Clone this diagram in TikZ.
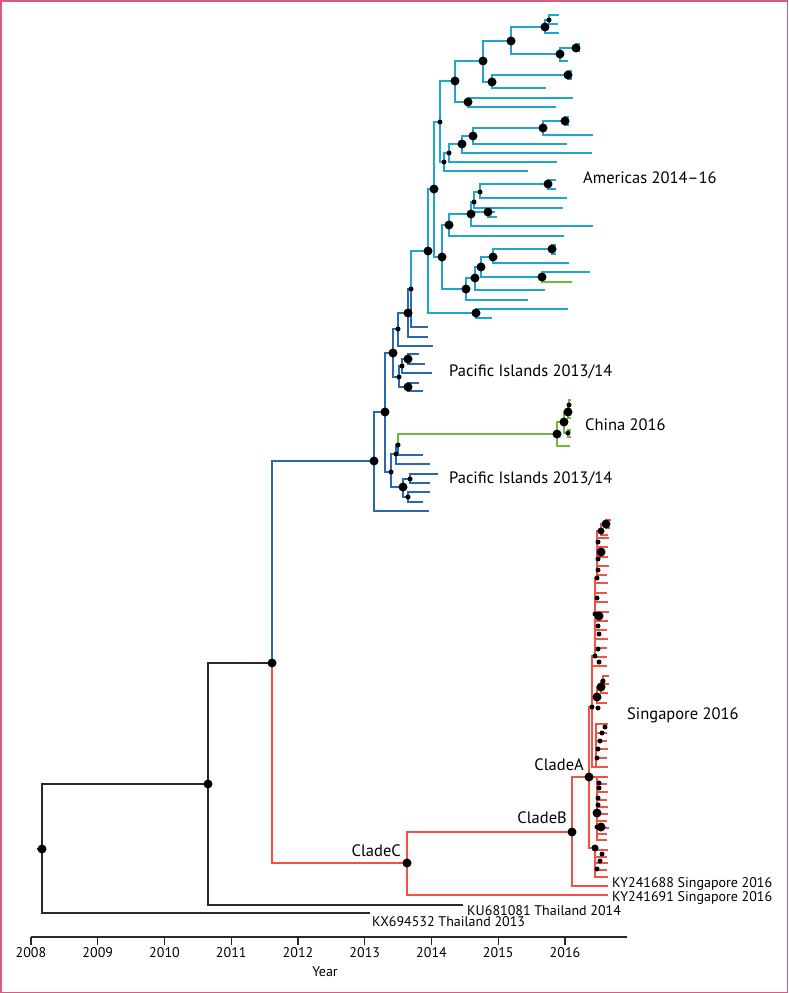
\documentclass[tikz,border=0pt]{standalone}
\usepackage{fontspec}
\setmainfont{PT Sans}
\definecolor{amcyan}{RGB}{30,165,208}
\definecolor{pacblue}{RGB}{42,105,175}
\definecolor{chgreen}{RGB}{112,185,62}
\definecolor{sgred}{RGB}{240,82,72}
\definecolor{treeblack}{RGB}{40,40,40}
\definecolor{frame}{RGB}{214,90,130}
\tikzset{
  br/.style={line width=1.2pt},
  blk/.style={br,draw=treeblack},
  pac/.style={br,draw=pacblue},
  ame/.style={br,draw=amcyan},
  chn/.style={br,draw=chgreen},
  sgp/.style={br,draw=sgred},
  bigdot/.style={circle,fill=black,inner sep=0pt,minimum size=9pt},
  middot/.style={circle,fill=black,inner sep=0pt,minimum size=7pt},
  smalldot/.style={circle,fill=black,inner sep=0pt,minimum size=5pt},
  lab/.style={font=\fontsize{16.5}{19}\selectfont,inner sep=0pt},
  acc/.style={font=\fontsize{14}{16}\selectfont,inner sep=0pt,anchor=west},
  ticklab/.style={font=\fontsize{14}{16}\selectfont,inner sep=0pt},
}
\begin{document}
\begin{tikzpicture}[x=1pt,y=-1pt]
\useasboundingbox (0,0) rectangle (788,993);
\draw[frame,line width=1.5pt] (0.75,0.75) rectangle (787.25,992.25);

% ---------- coordinates: black backbone
\coordinate (root) at (42,849); \coordinate (rstub) at (37,849);
\coordinate (n10) at (208,784); \coordinate (kx) at (370,913);
\coordinate (ku) at (463,905); \coordinate (n11) at (272,663);
% ---------- Pacific
\coordinate (B0) at (374,461); \coordinate (b1) at (429,511);
\coordinate (P1) at (385,412); \coordinate (R1) at (393,353);
\coordinate (R2) at (398,329); \coordinate (R7) at (408,313);
\coordinate (R8) at (411,289); \coordinate (r346) at (433,346);
\coordinate (r337) at (428,337); \coordinate (r327) at (428,327);
\coordinate (R3) at (399,377); \coordinate (R4) at (402,366);
\coordinate (R5) at (408,387); \coordinate (R6) at (408,359);
\coordinate (r354) at (419,354); \coordinate (r364) at (425,364);
\coordinate (r373) at (432,373); \coordinate (r383) at (419,383);
\coordinate (r391) at (423,391);
\coordinate (Q1) at (391,472); \coordinate (Q2) at (396,454);
\coordinate (Q3) at (403,487); \coordinate (Q4) at (398,445);
\coordinate (Q5) at (410,479); \coordinate (Q6) at (408,497);
\coordinate (q464) at (430,464); \coordinate (q455) at (423,455);
\coordinate (q474) at (438,474); \coordinate (q483) at (430,483);
\coordinate (q492) at (430,492); \coordinate (q502) at (423,502);
% ---------- China
\coordinate (C0) at (557,434); \coordinate (c446) at (570,446);
\coordinate (C1) at (564,422); \coordinate (C2) at (568,412);
\coordinate (C3) at (568,433); \coordinate (C4) at (569,405);
\coordinate (c418) at (571,418); \coordinate (c400) at (571,400);
\coordinate (c409) at (571,409); \coordinate (c430) at (571,430);
\coordinate (c437) at (571,437);
% ---------- Americas
\coordinate (Am) at (428,251); \coordinate (Am2) at (476,313);
\coordinate (a309) at (568,309); \coordinate (a318) at (492,318);
\coordinate (N189) at (434,189); \coordinate (N122) at (440,122);
\coordinate (N81) at (455,81); \coordinate (N61) at (483,61);
\coordinate (N41) at (511,41); \coordinate (N27) at (545,27);
\coordinate (N20) at (549,20); \coordinate (a15) at (559,15);
\coordinate (a24) at (558,24); \coordinate (a33) at (559,33);
\coordinate (N54) at (560,54); \coordinate (N48) at (576,48);
\coordinate (a44) at (580,44); \coordinate (a51) at (580,51);
\coordinate (a61) at (568,61); \coordinate (N82) at (492,82);
\coordinate (N75) at (568,75); \coordinate (a71) at (572,71);
\coordinate (a79) at (572,79); \coordinate (a88) at (546,88);
\coordinate (N102) at (468,102); \coordinate (a98) at (573,98);
\coordinate (a107) at (556,107); \coordinate (N162) at (444,162);
\coordinate (a171) at (528,171); \coordinate (N153) at (449,153);
\coordinate (a162) at (557,162); \coordinate (N144) at (462,144);
\coordinate (a153) at (592,153); \coordinate (N136) at (473,136);
\coordinate (a144) at (567,144); \coordinate (N128) at (543,128);
\coordinate (a135) at (593,135); \coordinate (N121) at (565,121);
\coordinate (a117) at (569,117); \coordinate (a125) at (569,125);
\coordinate (N257) at (442,257); \coordinate (N225) at (449,225);
\coordinate (a236) at (564,236); \coordinate (N214) at (471,214);
\coordinate (a226) at (593,226); \coordinate (N202) at (474,202);
\coordinate (a208) at (563,208); \coordinate (N192) at (480,192);
\coordinate (a198) at (567,198); \coordinate (N184) at (548,184);
\coordinate (a180) at (556,180); \coordinate (a189) at (556,189);
\coordinate (N212) at (488,212); \coordinate (a212) at (495,212);
\coordinate (a216) at (497,217); \coordinate (N289) at (466,289);
\coordinate (a300) at (528,300); \coordinate (N278) at (475,278);
\coordinate (a290) at (545,290); \coordinate (N267) at (481,267);
\coordinate (Nb257) at (493,257); \coordinate (a263) at (569,263);
\coordinate (N249) at (552,249); \coordinate (a245) at (556,245);
\coordinate (a254) at (556,254); \coordinate (N277) at (542,277);
\coordinate (a272) at (590,272); \coordinate (a282) at (572,282);
% ---------- Singapore
\coordinate (CC) at (407,863); \coordinate (k691) at (608,895);
\coordinate (CB) at (572,832); \coordinate (k688) at (608,886);
\coordinate (CA) at (589,777); \coordinate (S1) at (592,707);
\coordinate (L3) at (597,777); \coordinate (S3) at (595,848);
\coordinate (p2) at (595,656); \coordinate (p1) at (597,578);
\coordinate (q1) at (601,531); \coordinate (q0) at (606,524);
\coordinate (q3) at (597,697); \coordinate (q2) at (601,687);
\coordinate (q4) at (603,681); \coordinate (r0) at (596,767);
\coordinate (s666) at (607,666); \coordinate (s703) at (607,703);
\coordinate (s693) at (608,693); \coordinate (s676) at (609,676);
\coordinate (s684) at (609,684); \coordinate (s520) at (611,520);
\coordinate (s528) at (610,528); \coordinate (s535) at (608,535);

% ---------- edges
\draw[blk] (rstub) -- (root);
\foreach \a/\b in {root/n10,root/kx,n10/n11,n10/ku} \draw[blk] (\a) |- (\b);
\foreach \a/\b in {n11/B0,B0/P1,B0/b1,P1/R1,P1/Q1,R1/R2,R1/R3,R2/R7,R2/r346,
  R7/R8,R7/r337,R8/r327,R3/R4,R3/R5,R4/R6,R4/r373,R6/r354,R6/r364,R5/r383,
  R5/r391,Q1/Q2,Q1/Q3,Q2/Q4,Q2/q464,Q4/q455,Q3/Q5,Q3/Q6,Q5/q474,Q5/q483,
  Q6/q492,Q6/q502} \draw[pac] (\a) |- (\b);
\foreach \a/\b in {R8/Am,Am/N189,Am/Am2,Am2/a309,Am2/a318,N189/N122,N189/N257,
  N122/N81,N122/N162,N81/N61,N81/N102,N61/N41,N61/N82,N41/N27,N41/N54,
  N27/N20,N27/a33,N20/a15,N20/a24,N54/N48,N54/a61,N48/a44,N48/a51,N82/N75,
  N82/a88,N75/a71,N75/a79,N102/a98,N102/a107,N162/N153,N162/a171,N153/N144,
  N153/a162,N144/N136,N144/a153,N136/N128,N136/a144,N128/N121,N128/a135,
  N121/a117,N121/a125,N257/N225,N257/N289,N225/N214,N225/a236,N214/N202,
  N214/N212,N214/a226,N202/N192,N202/a208,N192/N184,N192/a198,N184/a180,
  N184/a189,N212/a212,N212/a216,N289/N278,N289/a300,N278/N267,N278/a290,
  N267/Nb257,N267/N277,Nb257/N249,Nb257/a263,N249/a245,N249/a254,N277/a272}
  \draw[ame] (\a) |- (\b);
\foreach \a/\b in {Q4/C0,C0/c446,C0/C1,C1/C2,C1/C3,C2/C4,C2/c418,C4/c400,
  C4/c409,C3/c430,C3/c437,N277/a282} \draw[chn] (\a) |- (\b);
\foreach \a/\b in {n11/CC,CC/k691,CC/CB,CB/k688,CB/CA,CA/S1,CA/L3,CA/S3,
  S1/p2,S1/q3,S1/r0,S1/s666,p2/p1,p1/q1,q1/q0,q1/s535,q0/s520,q0/s528,
  q3/q2,q3/s703,q2/q4,q2/s693,q4/s676,q4/s684} \draw[sgp] (\a) |- (\b);
\foreach \y/\e in {583/608,593/607,602/608,612/609,621/608,630/607,639/608,648/607,657/607}
  {\coordinate (pt\y) at (\e,\y); \draw[sgp] (p2) |- (pt\y);}
\foreach \y/\e in {538/609,547/608,557/608,566/609,575/607}
  {\coordinate (pu\y) at (\e,\y); \draw[sgp] (p1) |- (pu\y);}
\foreach \y/\e in {724/608,733/607,741/607,749/608,758/607,767/608}
  {\coordinate (rt\y) at (\e,\y); \draw[sgp] (r0) |- (rt\y);}
\foreach \y/\e in {777/608,784/607,792/608,800/607,807/608,814/608,821/607,828/609,834/607,840/607}
  {\coordinate (lt\y) at (\e,\y); \draw[sgp] (L3) |- (lt\y);}
\foreach \y/\e in {850/608,857/607,863/608,870/607,877/608}
  {\coordinate (st\y) at (\e,\y); \draw[sgp] (S3) |- (st\y);}

% ---------- dots
\foreach \n in {root,n10,n11,CC,CB,CA,B0,P1,R1,R7,R6,R5,Q3,C0,C1,C2,Am,Am2,
  N189,N81,N61,N41,N27,N54,N48,N82,N75,N102,N128,N121,N136,N144,N257,N225,
  N214,N212,N184,N289,N278,N267,Nb257,N249,N277,q0,q2,q3}
  \node[bigdot] (\n-d) at (\n) {};
\foreach \n in {S3,q1} \node[middot] (\n-d) at (\n) {};
\foreach \n in {R2,R8,R3,R4,Q1,Q2,Q4,Q5,Q6,C3,C4,N122,N162,N153,N20,N202,
  N192,p1,p2,S1,q4}
  \node[smalldot] (\n-d) at (\n) {};
\foreach \x/\y [count=\i] in {598/542,598/559,598/570,597/598,595/614,598/626,
  599/634,598/649,599/662,605/727,602/733,600/741,598/749,597/758,599/783,
  599/788,598/798,598/805,597/827,602/854,600/861,597/869,598/708}
  \node[smalldot] (sd\i) at (\x,\y) {};
\foreach \x/\y [count=\i] in {601/552,599/616,597/813,601/827}
  \node[bigdot] (sb\i) at (\x,\y) {};

% ---------- labels
\node[lab,anchor=west] (lAm) at (583,178) {Americas 2014–16};
\node[lab,anchor=west] (lPa) at (449,372) {Pacific Islands 2013/14};
\node[lab,anchor=west] (lPb) at (449,479) {Pacific Islands 2013/14};
\node[lab,anchor=west] (lCh) at (585,425) {China 2016};
\node[lab,anchor=west] (lSg) at (627,715) {Singapore 2016};
\node[lab,anchor=east] (lCA) at (584,765) {CladeA};
\node[lab,anchor=east] (lCB) at (567,818) {CladeB};
\node[lab,anchor=east] (lCC) at (401,851) {CladeC};
\node[acc] (l688) at (612,884) {KY241688 Singapore 2016};
\node[acc] (l691) at (612,898) {KY241691 Singapore 2016};
\node[acc] (l081) at (467,911) {KU681081 Thailand 2014};
\node[acc] (l532) at (372,922) {KX694532 Thailand 2013};

% ---------- axis
\coordinate (ax0) at (31,937); \coordinate (ax1) at (627,937);
\draw[treeblack,line width=1.2pt] (ax0) -- (ax1);
\foreach \i in {0,...,8} {
  \pgfmathtruncatemacro\yr{2008+\i}
  \coordinate (tk\i) at ({31+66.75*\i},937);
  \draw[treeblack,line width=1.2pt] (tk\i) -- ++(0,8);
  \node[ticklab] (tl\i) at ({31+66.75*\i},953) {\yr};
}
\node[ticklab] (yl) at (325,972) {Year};
\end{tikzpicture}
\end{document}
